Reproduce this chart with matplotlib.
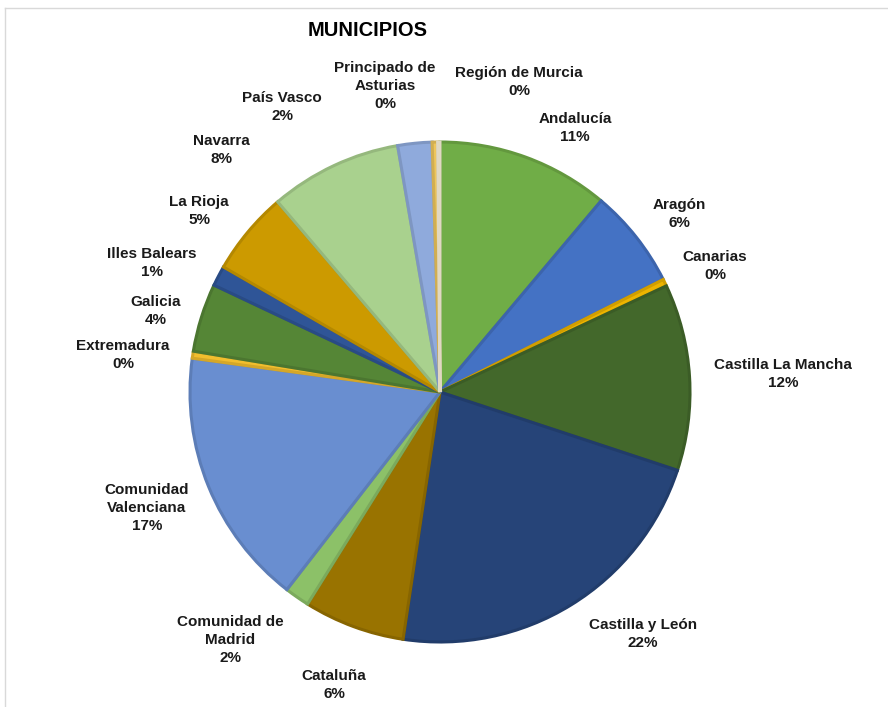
import matplotlib.pyplot as plt
import matplotlib.colors as mcolors

plt.rcParams['font.family'] = ['Liberation Sans', 'DejaVu Sans']

regions = ['Andalucía', 'Aragón', 'Canarias', 'Castilla La Mancha', 'Castilla y León',
           'Cataluña', 'Comunidad de\nMadrid', 'Comunidad\nValenciana', 'Extremadura',
           'Galicia', 'Illes Balears', 'La Rioja', 'Navarra', 'País Vasco',
           'Principado de\nAsturias', 'Región de Murcia']
pct = [11.1, 6.4, 0.45, 12.0, 22.2, 6.5, 1.6, 16.6, 0.45, 4.4, 1.3, 5.4, 8.5, 2.2, 0.35, 0.15]
colors = ['#70AD47', '#4472C4', '#EDB400', '#43682B', '#264478', '#997300', '#8CC168',
          '#698ED0', '#F2BE2E', '#558636', '#2F5597', '#CC9A00', '#A9D18E', '#8FAADC',
          '#EEC65C', '#FFF6DC']

# label centres, in pie radii from the centre
label_xy = [(0.54, 1.056), (0.956, 0.712), (1.10, 0.504), (1.372, 0.072), (0.812, -0.968),
            (-0.424, -1.172), (-0.84, -0.992), (-1.172, -0.464), (-1.268, 0.148),
            (-1.136, 0.324), (-1.152, 0.516), (-0.964, 0.724), (-0.876, 0.968),
            (-0.632, 1.14), (-0.22, 1.224), (0.316, 1.24)]

fig = plt.figure(figsize=(8.88, 7.07), dpi=100)
ax = fig.add_axes([0, 0, 1, 1])

wedges, _ = ax.pie(pct, colors=colors, startangle=90, counterclock=False, radius=1,
                   wedgeprops=dict(linewidth=2.2))
for w, c in zip(wedges, colors):
    r, g, b = mcolors.to_rgb(c)
    w.set_edgecolor((r * 0.88, g * 0.88, b * 0.88))

for name, p, (x, y) in zip(regions, pct, label_xy):
    ax.text(x, y, '%s\n%d%%' % (name, round(p)), ha='center', va='center',
            fontsize=11, fontweight='bold', color='#1a1a1a', linespacing=1.4)

ax.set_xlim(-440 / 250, 448 / 250)
ax.set_ylim(-315 / 250, 392 / 250)
ax.set_aspect('auto')
ax.axis('off')

fig.text(368 / 888, 1 - 31 / 707, 'MUNICIPIOS', ha='center', va='center',
         fontsize=14.5, fontweight='bold', family=['Liberation Sans Narrow', 'Liberation Sans'])

# thin frame lines at top and left
fig.add_artist(plt.Line2D([5 / 888, 1], [1 - 8 / 707, 1 - 8 / 707], color='#d9d9d9', lw=1))
fig.add_artist(plt.Line2D([5 / 888, 5 / 888], [0, 1 - 8 / 707], color='#d9d9d9', lw=1))

fig.savefig('out.png', dpi=100)
